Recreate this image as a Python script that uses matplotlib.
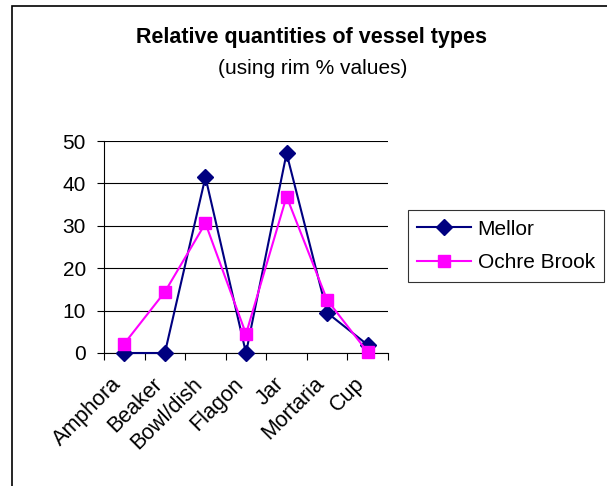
import matplotlib
matplotlib.use("Agg")
import matplotlib.pyplot as plt
import matplotlib.transforms as mtransforms
from matplotlib.patches import Rectangle

# ── Data ──────────────────────────────────────────
categories = ["Amphora", "Beaker", "Bowl/dish", "Flagon", "Jar", "Mortaria", "Cup"]
mellor     = [0, 0, 41.5, 0, 47.1, 9.5, 1.9]
ochre      = [2.2, 14.4, 30.6, 4.5, 36.9, 12.5, 0.2]
yticks     = [0, 10, 20, 30, 40, 50]

plt.rcParams["font.family"] = ["Liberation Sans", "DejaVu Sans"]

fig = plt.figure(figsize=(6.07, 4.86), dpi=100)

# outer chart frame (runs off the right/bottom edge)
fig.patches.append(Rectangle((12 / 607, -0.05), 1.0, 1 - 6 / 486 + 0.05,
                             transform=fig.transFigure, fill=False,
                             edgecolor="black", linewidth=1.2))

fig.text(312 / 607, 1 - 37 / 486, "Relative quantities of vessel types",
         ha="center", va="center", fontsize=15.5, fontweight="bold")
fig.text(313 / 607, 1 - 68 / 486, "(using rim % values)",
         ha="center", va="center", fontsize=15)

ax = fig.add_axes([104 / 607, 1 - 353 / 486, 284 / 607, 212 / 486])
x = list(range(len(categories)))
ax.plot(x, mellor, color="#000080", marker="D", markersize=8, linewidth=1.5,
        label="Mellor", clip_on=False, zorder=3)
ax.plot(x, ochre, color="#FF00FF", marker="s", markersize=8.5, linewidth=1.5,
        label="Ochre Brook", clip_on=False, zorder=3)

ax.set_xlim(-0.5, len(categories) - 0.5)
ax.set_ylim(0, 50)
ax.set_yticks(yticks)
ax.tick_params(axis="y", labelsize=15, length=5, direction="out", pad=8)
ax.grid(axis="y", color="black", linewidth=0.8)
ax.set_axisbelow(True)

# boundaries between categories get tick marks, labels sit in the middle
ax.set_xticks([i - 0.5 for i in range(len(categories) + 1)])
ax.set_xticklabels([])
ax.set_xticks(x, minor=True)
ax.set_xticklabels(categories, minor=True, rotation=45, ha="right", va="center",
                   rotation_mode="anchor", fontsize=15.5)
ax.tick_params(axis="x", which="major", length=5, direction="out")
ax.tick_params(axis="x", which="minor", length=0, pad=20)
shift = mtransforms.ScaledTranslation(-6 / 100, 0, fig.dpi_scale_trans)
for lbl in ax.get_xticklabels(minor=True):
    lbl.set_transform(lbl.get_transform() + shift)

for s in ["top", "right"]:
    ax.spines[s].set_visible(False)

leg = fig.legend(loc="center", bbox_to_anchor=(506 / 607, 1 - 246 / 486),
                 fontsize=15, frameon=True, fancybox=False, edgecolor="black",
                 handlelength=2.6, handletextpad=0.3, borderpad=0.45,
                 labelspacing=0.7, borderaxespad=0)
leg.get_frame().set_linewidth(0.8)

fig.savefig("out.png", dpi=100, facecolor="white")
